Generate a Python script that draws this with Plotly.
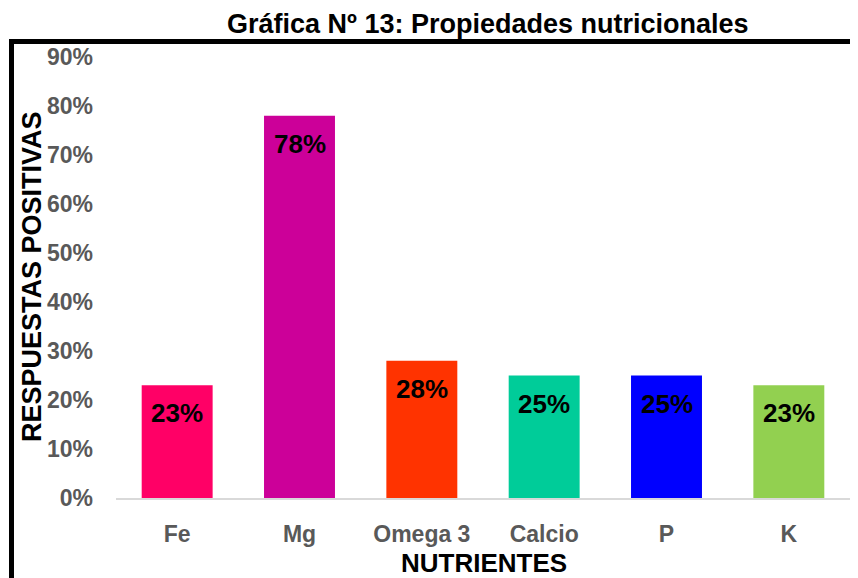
import plotly.graph_objects as go

categories = ["Fe", "Mg", "Omega 3", "Calcio", "P", "K"]
values = [0.23, 0.78, 0.28, 0.25, 0.25, 0.23]
labels = ["23%", "78%", "28%", "25%", "25%", "23%"]
colors = ["#FF0066", "#CC0099", "#FF3300", "#00CC99", "#0000FF", "#92D050"]
y_ticks = [0, 0.1, 0.2, 0.3, 0.4, 0.5, 0.6, 0.7, 0.8, 0.9]
y_ticklabels = ["0%", "10%", "20%", "30%", "40%", "50%", "60%", "70%", "80%", "90%"]

# page offset (default body margin of the html page)
O = 8
W, H = 858 - O, 578 - O
# plot area in page pixels: x 116..850, y 57..498
ML, MR, MT, MB = 116 - O, 858 - 850, 57 - O, 578 - 498
PW, PH = W - ML - MR, H - MT - MB


def px_x(p):  # page pixel -> paper x
    return (p - O - ML) / PW


def px_y(p):  # page pixel -> paper y
    return (H - MB - (p - O)) / PH


FONT = "Arial, Liberation Sans, sans-serif"

fig = go.Figure()
fig.add_trace(go.Bar(
    x=categories, y=values, marker=dict(color=colors, line=dict(width=0)),
    hoverinfo="skip",
))

for c, v, t in zip(categories, values, labels):
    fig.add_annotation(x=c, y=v, xref="x", yref="y", text="<b>%s</b>" % t,
                       showarrow=False, yanchor="middle", yshift=-28,
                       font=dict(family=FONT, size=26, color="black"))

fig.add_annotation(x=px_x(32), y=px_y(277), xref="paper", yref="paper",
                   text="<b>RESPUESTAS POSITIVAS</b>", textangle=-90,
                   showarrow=False, xanchor="center", yanchor="middle",
                   font=dict(family=FONT, size=27, color="black"))
fig.add_annotation(x=px_x(484), y=px_y(563), xref="paper", yref="paper",
                   text="<b>NUTRIENTES</b>",
                   showarrow=False, xanchor="center", yanchor="middle",
                   font=dict(family=FONT, size=26, color="black"))
fig.add_annotation(x=px_x(488), y=px_y(24), xref="paper", yref="paper",
                   text="<b>Gráfica Nº 13: Propiedades nutricionales</b>",
                   showarrow=False, xanchor="center", yanchor="middle",
                   font=dict(family=FONT, size=27, color="black"))

# thick chart-area border (extends past right and bottom edges)
fig.add_shape(type="rect", xref="paper", yref="paper",
              x0=px_x(11.5), x1=px_x(858 + 40), y0=px_y(578 + 40), y1=px_y(41.5),
              line=dict(color="black", width=5), fillcolor="rgba(0,0,0,0)",
              layer="above")

fig.update_layout(
    width=W, height=H,
    margin=dict(l=ML, r=MR, t=MT, b=MB, pad=0),
    paper_bgcolor="white", plot_bgcolor="white",
    bargap=0.42, showlegend=False,
    font=dict(family=FONT),
    xaxis=dict(
        showline=True, linecolor="#D9D9D9", linewidth=2,
        showgrid=False, zeroline=False, ticks="",
        tickfont=dict(family=FONT, size=23, color="#595959", weight="bold"),
        ticklabelstandoff=14, fixedrange=True,
    ),
    yaxis=dict(
        range=[0, 0.9], tickvals=y_ticks, ticktext=y_ticklabels,
        showgrid=False, zeroline=False, showline=False, ticks="",
        tickfont=dict(family=FONT, size=23, color="#595959", weight="bold"),
        ticklabelstandoff=22, fixedrange=True,
    ),
)

fig.write_html("out.html")
